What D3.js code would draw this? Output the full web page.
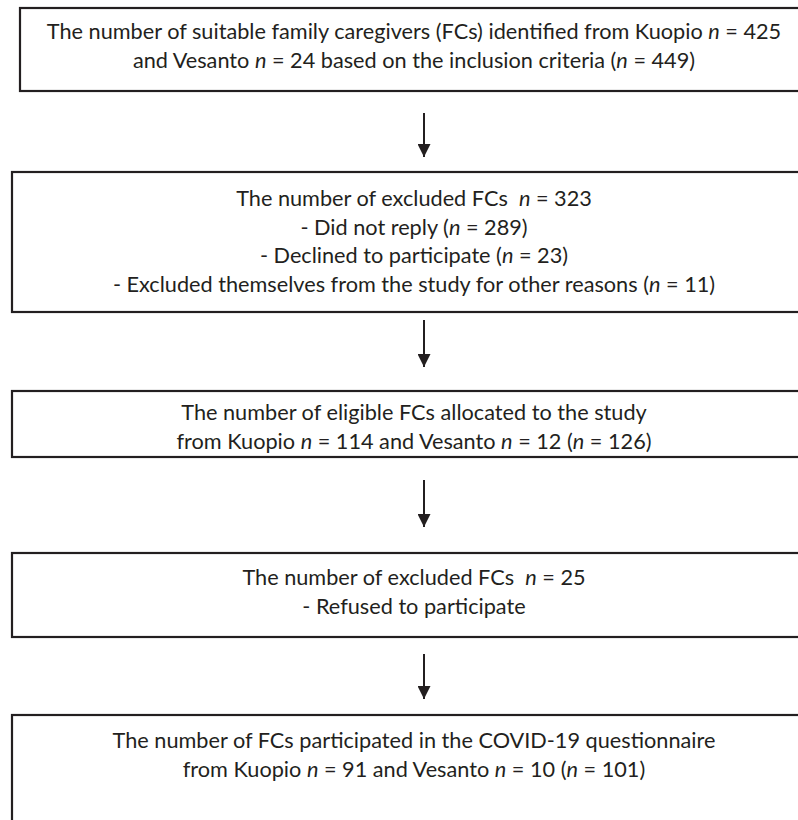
<!DOCTYPE html>
<html>
<head>
<meta charset="utf-8">
<script src="https://cdn.jsdelivr.net/npm/d3@7"></script>
<style>
  body { margin: 0; background: #fff; }
  svg { display: block; }
</style>
</head>
<body>
<div id="chart"></div>
<script>
// flowchart contents, *n* marks the italic n
var step1 = ["The number of suitable family caregivers (FCs) identified from Kuopio *n* = 425",
             "and Vesanto *n* = 24 based on the inclusion criteria (*n* = 449)"];
var step2 = ["The number of excluded FCs  *n* = 323",
             "- Did not reply (*n* = 289)",
             "- Declined to participate (*n* = 23)",
             "- Excluded themselves from the study for other reasons (*n* = 11)"];
var step3 = ["The number of eligible FCs allocated to the study",
             "from Kuopio *n* = 114 and Vesanto *n* = 12 (*n* = 126)"];
var step4 = ["The number of excluded FCs  *n* = 25",
             "- Refused to participate"];
var step5 = ["The number of FCs participated in the COVID-19 questionnaire",
             "from Kuopio *n* = 91 and Vesanto *n* = 10 (*n* = 101)"];

var steps = [step1, step2, step3, step4, step5];

// layout (pixels)
var W = 798, H = 820;
var boxes = [
  {x: 20, y: 8,   h: 83,  base: 39},
  {x: 12, y: 172, h: 140, base: 206},
  {x: 12, y: 391, h: 66,  base: 420},
  {x: 12, y: 553, h: 84,  base: 585},
  {x: 12, y: 715, h: 130, base: 748}
];
var arrows = [[113, 157], [320, 367], [480, 527], [654, 699]];
var lineGap = 28.7;
var textX = 414;
var arrowX = 424;
var ink = "#231f20";

var svg = d3.select("#chart").append("svg")
  .attr("width", W).attr("height", H);

var g = svg.selectAll(".step")
  .data(steps)
  .enter().append("g")
  .attr("class", "step");

g.append("rect")
  .attr("x", function(d, i) { return boxes[i].x; })
  .attr("y", function(d, i) { return boxes[i].y; })
  .attr("width", function(d, i) { return W + 20 - boxes[i].x; })
  .attr("height", function(d, i) { return boxes[i].h; })
  .style("fill", "#fff")
  .style("stroke", ink)
  .style("stroke-width", 2.2);

var fontSize = 20;

var txt = g.selectAll("text")
  .data(function(d, i) { return d.map(function(s, j) { return {s: s, i: i, j: j}; }); })
  .enter().append("text")
  .attr("x", textX)
  .attr("y", function(d) { return boxes[d.i].base + d.j * lineGap; })
  .attr("text-anchor", "middle")
  .style("font-family", "Lato, 'Open Sans', sans-serif")
  .style("font-size", fontSize + "px")
  .style("fill", ink);

txt.each(function(d) {
  var parts = d.s.split("*");
  var t = d3.select(this);
  parts.forEach(function(p, k) {
    if (p === "") return;
    t.append("tspan")
      .style("font-style", k % 2 ? "italic" : "normal")
      .style("white-space", "pre")
      .attr("xml:space", "preserve")
      .text(p);
  });
});

// fit the font so the widest line spans like the original
var first = txt.filter(function(d) { return d.i === 0 && d.j === 0; }).node();
var wNow = first.getComputedTextLength();
fontSize = fontSize * 735 / wNow;
txt.style("font-size", fontSize + "px");

// arrows between boxes
svg.append("defs").append("marker")
  .attr("id", "head")
  .attr("viewBox", "0 0 13 13")
  .attr("refX", 13).attr("refY", 6.5)
  .attr("markerWidth", 13).attr("markerHeight", 13)
  .attr("markerUnits", "userSpaceOnUse")
  .attr("orient", "auto")
  .append("path")
  .attr("d", "M0,0 L13,6.5 L0,13 Z")
  .style("fill", ink);

svg.selectAll(".arrow")
  .data(arrows)
  .enter().append("line")
  .attr("class", "arrow")
  .attr("x1", arrowX).attr("x2", arrowX)
  .attr("y1", function(a) { return a[0]; })
  .attr("y2", function(a) { return a[1]; })
  .style("stroke", ink)
  .style("stroke-width", 2)
  .attr("marker-end", "url(#head)");
</script>
</body>
</html>
